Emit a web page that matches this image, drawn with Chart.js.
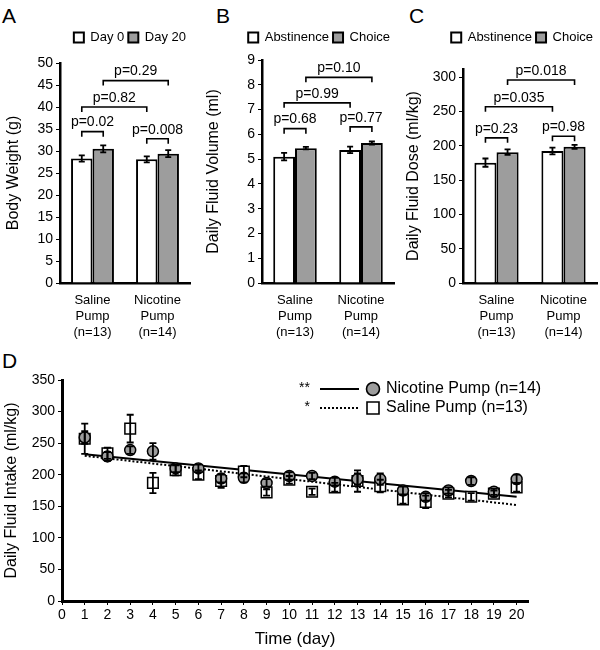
<!DOCTYPE html>
<html>
<head>
<meta charset="utf-8">
<script src="https://cdn.jsdelivr.net/npm/chart.js@4.4.0/dist/chart.umd.min.js"></script>
<style>
body{margin:0;background:#fff;width:600px;height:650px;position:relative;overflow:hidden;font-family:"Liberation Sans",Arial,sans-serif}
canvas{position:absolute}
.tag{position:absolute;font-size:21px;line-height:24px;color:#000}
</style>
</head>
<body>
<div class="tag" style="left:2px;top:4px">A</div>
<div class="tag" style="left:216px;top:4px">B</div>
<div class="tag" style="left:409px;top:4px">C</div>
<div class="tag" style="left:2px;top:349px">D</div>
<canvas id="cA" width="200" height="340" style="left:0;top:0"></canvas>
<canvas id="cB" width="200" height="340" style="left:200px;top:0"></canvas>
<canvas id="cC" width="200" height="340" style="left:400px;top:0"></canvas>
<canvas id="cD" width="600" height="310" style="left:0;top:340px"></canvas>
<script>
Chart.defaults.font.family = '"Liberation Sans", Arial, Helvetica, sans-serif';
Chart.defaults.color = '#000';
Chart.defaults.animation = false;

var white = '#ffffff', gray = '#9d9d9d';
var groups = [['Saline', 'Pump', '(n=13)'], ['Nicotine', 'Pump', '(n=14)']];

// panel A
var aNames = ['Day 0', 'Day 20'];
var aFirst = [28.3, 28.1];
var aFirstErr = [0.7, 0.7];
var aSecond = [30.5, 29.4];
var aSecondErr = [0.8, 0.8];
var aTicks = [0, 5, 10, 15, 20, 25, 30, 35, 40, 45, 50];
// [bar, bar, height, text]  bars: 0 saline-1st, 1 saline-2nd, 2 nicotine-1st, 3 nicotine-2nd
var aBrackets = [[0, 1, 34.4, 'p=0.02'], [2, 3, 32.8, 'p=0.008'], [0, 2, 40, 'p=0.82'], [1, 3, 46, 'p=0.29']];

// panel B
var bNames = ['Abstinence', 'Choice'];
var bFirst = [5.1, 5.37];
var bFirstErr = [0.15, 0.13];
var bSecond = [5.44, 5.65];
var bSecondErr = [0.05, 0.06];
var bTicks = [0, 1, 2, 3, 4, 5, 6, 7, 8, 9];
var bBrackets = [[0, 1, 6.23, 'p=0.68'], [2, 3, 6.3, 'p=0.77'], [0, 2, 7.27, 'p=0.99'], [1, 3, 8.3, 'p=0.10']];

// panel C
var cNames = ['Abstinence', 'Choice'];
var cFirst = [175.5, 192.5];
var cFirstErr = [6, 5];
var cSecond = [190.8, 198.5];
var cSecondErr = [4, 3];
var cTicks = [0, 50, 100, 150, 200, 250, 300];
var cBrackets = [[0, 1, 211.6, 'p=0.23'], [2, 3, 214, 'p=0.98'], [0, 2, 257, 'p=0.035'], [1, 3, 296, 'p=0.018']];

// panel D
var days = [1, 2, 3, 4, 5, 6, 7, 8, 9, 10, 11, 12, 13, 14, 15, 16, 17, 18, 19, 20];
var nicMean = [259, 229, 239, 237, 210, 210, 194, 195, 187, 198, 198, 189, 193, 193, 175, 165, 175, 190, 173, 193];
var nicErr = [10, 7, 6, 13, 6, 6, 6, 7, 6, 6, 5, 6, 9, 9, 6, 6, 5, 6, 5, 7];
var salMean = [257, 234, 273, 187, 207, 200, 190, 205, 172, 192, 173, 180, 190, 182, 161, 157, 170, 165, 170, 180];
var salErr = [24, 9, 22, 16, 8, 7, 11, 9, 5, 6, 5, 7, 17, 10, 7, 10, 6, 6, 5, 7];
var fitDays = [1, 20];
var nicFit = [232.5, 165];
var salFit = [230, 152];
var dStars = ['**', '*'];
var dXTicks = [0, 1, 2, 3, 4, 5, 6, 7, 8, 9, 10, 11, 12, 13, 14, 15, 16, 17, 18, 19, 20];
var dYTicks = [0, 50, 100, 150, 200, 250, 300, 350];

function setTicks(list) {
  return function(s) { s.ticks = list.map(function(v) { return { value: v }; }); };
}

var errorBars = {
  id: 'errorBars',
  afterDatasetsDraw: function(chart) {
    var ctx = chart.ctx, ys = chart.scales.y;
    chart.data.datasets.forEach(function(ds, i) {
      if (!ds.errors) return;
      var meta = chart.getDatasetMeta(i);
      meta.data.forEach(function(el, j) {
        var d = ds.data[j];
        var v = typeof d === 'object' ? d.y : d;
        var e = ds.errors[j];
        var top = ys.getPixelForValue(v + e), bot = ys.getPixelForValue(v - e);
        var w = ds.capWidth || 3;
        ctx.save();
        ctx.strokeStyle = '#000';
        ctx.lineWidth = 1.8;
        ctx.beginPath();
        ctx.moveTo(el.x, top); ctx.lineTo(el.x, bot);
        ctx.moveTo(el.x - w, top); ctx.lineTo(el.x + w, top);
        ctx.moveTo(el.x - w, bot); ctx.lineTo(el.x + w, bot);
        ctx.stroke();
        ctx.restore();
      });
    });
  }
};

var brackets = {
  id: 'brackets',
  afterDatasetsDraw: function(chart, args, opts) {
    if (!opts.items) return;
    var ctx = chart.ctx, ys = chart.scales.y;
    function barX(k) { return chart.getDatasetMeta(k % 2).data[Math.floor(k / 2)].x; }
    opts.items.forEach(function(b) {
      var x1 = barX(b[0]), x2 = barX(b[1]), y = ys.getPixelForValue(b[2]);
      ctx.save();
      ctx.strokeStyle = '#000';
      ctx.lineWidth = 1.6;
      ctx.beginPath();
      ctx.moveTo(x1, y + 5); ctx.lineTo(x1, y); ctx.lineTo(x2, y); ctx.lineTo(x2, y + 5);
      ctx.stroke();
      ctx.fillStyle = '#000';
      ctx.font = '14px "Liberation Sans", Arial, sans-serif';
      ctx.textAlign = 'center';
      ctx.textBaseline = 'bottom';
      ctx.fillText(b[3], (x1 + x2) / 2, y - 2);
      ctx.restore();
    });
  }
};

// extra room under the legend
var legendGap = {
  id: 'legendGap',
  beforeInit: function(chart, args, opts) {
    var fit = chart.legend.fit;
    chart.legend.fit = function() {
      fit.call(chart.legend);
      this.height += opts.gap || 0;
    };
  }
};

function barPanel(id, names, first, firstErr, second, secondErr, items, yTitle, yMax, yTicks, yWidth, padRight, gap) {
  return new Chart(document.getElementById(id), {
    type: 'bar',
    data: {
      labels: groups,
      datasets: [
        { label: names[0], data: first, errors: firstErr, backgroundColor: white, borderColor: '#000', borderWidth: 2 },
        { label: names[1], data: second, errors: secondErr, backgroundColor: gray, borderColor: '#000', borderWidth: 2 }
      ]
    },
    options: {
      responsive: false,
      categoryPercentage: 0.66,
      barPercentage: 1.0,
      layout: { padding: { top: 27, right: padRight, left: 0, bottom: 0 } },
      plugins: {
        legend: {
          align: 'end',
          labels: { boxWidth: 10, boxHeight: 10, padding: 4, font: { size: 13 } }
        },
        tooltip: { enabled: false },
        brackets: { items: items },
        legendGap: { gap: gap }
      },
      scales: {
        x: {
          grid: { display: false },
          border: { color: '#000', width: 2.5 },
          ticks: { font: { size: 13 }, padding: 2, maxRotation: 0 },
          afterFit: function(s) { s.height = 57; }
        },
        y: {
          min: 0, max: yMax,
          grid: { drawOnChartArea: false, color: '#000', tickLength: 4 },
          border: { color: '#000', width: 2.5 },
          ticks: { font: { size: 14 }, padding: 3 },
          title: { display: true, text: yTitle, font: { size: 16 }, padding: { top: 4, bottom: 0 } },
          afterBuildTicks: setTicks(yTicks),
          afterFit: function(s) { s.width = yWidth; }
        }
      }
    },
    plugins: [legendGap, errorBars, brackets]
  });
}

barPanel('cA', aNames, aFirst, aFirstErr, aSecond, aSecondErr, aBrackets, 'Body Weight (g)', 50, aTicks, 60, 10, 9);
barPanel('cB', bNames, bFirst, bFirstErr, bSecond, bSecondErr, bBrackets, 'Daily Fluid Volume (ml)', 9, bTicks, 62, 6, 6);
barPanel('cC', cNames, cFirst, cFirstErr, cSecond, cSecondErr, cBrackets, 'Daily Fluid Dose (ml/kg)', 312, cTicks, 63, 3, 15);

var dLegend = {
  id: 'dLegend',
  afterDraw: function(chart) {
    var ctx = chart.ctx;
    var rows = [chart.data.datasets[0], chart.data.datasets[1]];
    ctx.save();
    rows.forEach(function(ds, i) {
      var y = 49 + i * 19;
      ctx.fillStyle = '#000';
      ctx.font = '14px "Liberation Sans", Arial, sans-serif';
      ctx.textAlign = 'right';
      ctx.textBaseline = 'middle';
      ctx.fillText(dStars[i], 310, y - 1);
      ctx.strokeStyle = '#000';
      ctx.lineWidth = 2;
      ctx.setLineDash(i === 0 ? [] : [2, 2]);
      ctx.beginPath(); ctx.moveTo(320, y); ctx.lineTo(359, y); ctx.stroke();
      ctx.setLineDash([]);
      ctx.lineWidth = 1.6;
      ctx.fillStyle = ds.backgroundColor;
      ctx.beginPath();
      if (i === 0) ctx.arc(373, y, 6.5, 0, Math.PI * 2);
      else ctx.rect(367, y - 6, 12, 12);
      ctx.fill(); ctx.stroke();
      ctx.fillStyle = '#000';
      ctx.font = '16px "Liberation Sans", Arial, sans-serif';
      ctx.textAlign = 'left';
      ctx.fillText(ds.label, 386, y);
    });
    ctx.restore();
  }
};

function pts(xs, ys) { return xs.map(function(x, i) { return { x: x, y: ys[i] }; }); }

new Chart(document.getElementById('cD'), {
  type: 'scatter',
  data: {
    datasets: [
      { label: 'Nicotine Pump (n=14)', data: pts(days, nicMean), errors: nicErr, capWidth: 3.5, order: 0,
        backgroundColor: gray, borderColor: '#000', borderWidth: 1.5, pointRadius: 5.5, pointStyle: 'circle' },
      { label: 'Saline Pump (n=13)', data: pts(days, salMean), errors: salErr, capWidth: 3.5, order: 1,
        backgroundColor: white, borderColor: '#000', borderWidth: 1.5, pointRadius: 7.5, pointStyle: 'rect' },
      { type: 'line', label: 'nic fit', data: pts(fitDays, nicFit), order: 2,
        borderColor: '#000', borderWidth: 2, pointRadius: 0, fill: false },
      { type: 'line', label: 'sal fit', data: pts(fitDays, salFit), order: 3,
        borderColor: '#000', borderWidth: 2, borderDash: [2, 2], pointRadius: 0, fill: false }
    ]
  },
  options: {
    responsive: false,
    layout: { padding: { top: 40, right: 72, left: 0, bottom: 0 } },
    plugins: { legend: { display: false }, tooltip: { enabled: false } },
    scales: {
      x: {
        type: 'linear', min: 0, max: 20.5,
        grid: { drawOnChartArea: false, color: '#000', tickLength: 4 },
        border: { color: '#000', width: 3 },
        ticks: { font: { size: 14 }, padding: 2 },
        title: { display: true, text: 'Time (day)', font: { size: 17 }, padding: { top: 0, bottom: 0 } },
        afterBuildTicks: setTicks(dXTicks),
        afterFit: function(s) { s.height = 49; }
      },
      y: {
        min: 0, max: 350,
        grid: { drawOnChartArea: false, color: '#000', tickLength: 4 },
        border: { color: '#000', width: 3 },
        ticks: { font: { size: 14 }, padding: 3 },
        title: { display: true, text: 'Daily Fluid Intake (ml/kg)', font: { size: 16 }, padding: { top: 2, bottom: 0 } },
        afterBuildTicks: setTicks(dYTicks),
        afterFit: function(s) { s.width = 62; }
      }
    }
  },
  plugins: [errorBars, dLegend]
});
</script>
</body>
</html>
